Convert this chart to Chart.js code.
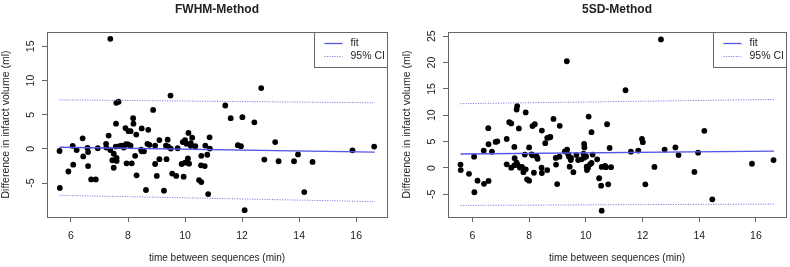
<!DOCTYPE html>
<html>
<head>
<meta charset="utf-8">
<title>FWHM vs 5SD</title>
<script src="https://cdn.jsdelivr.net/npm/chart.js@4.4.1/dist/chart.umd.min.js"></script>
<style>
  html, body { margin: 0; padding: 0; background: #fff; }
  .panel { position: absolute; top: 0; width: 395px; height: 267px; }
</style>
</head>
<body>
<div class="panel" style="left:0"><canvas id="fwhmChart" width="395" height="267"></canvas></div>
<div class="panel" style="left:395px"><canvas id="sdChart" width="395" height="267"></canvas></div>
<script>
// x = time between sequences (min), y = difference in infarct volume (ml)
const fwhmX = [5.60, 5.61, 5.91, 6.06, 6.08, 6.20, 6.41, 6.43, 6.58, 6.60, 6.60, 6.71, 6.87, 6.94,
  7.23, 7.24, 7.32, 7.38, 7.38, 7.45, 7.50, 7.50, 7.57, 7.58, 7.59, 7.60, 7.60, 7.67, 7.70, 7.78,
  7.85, 7.91, 7.93, 7.95, 8.00, 8.02, 8.09, 8.09, 8.13, 8.18, 8.19, 8.25, 8.29, 8.30, 8.46, 8.48,
  8.48, 8.56, 8.63, 8.68, 8.71, 8.75, 8.88, 8.95, 8.95, 9.01, 9.10, 9.10, 9.26, 9.33, 9.35, 9.39,
  9.41, 9.49, 9.50, 9.55, 9.69, 9.74, 9.88, 9.92, 9.95, 10.00, 10.00, 10.05, 10.10, 10.12, 10.14,
  10.20, 10.20, 10.25, 10.36, 10.49, 10.56, 10.57, 10.57, 10.69, 10.71, 10.78, 10.81, 10.86, 10.87,
  11.41, 11.60, 11.85, 11.96, 12.01, 12.09, 12.43, 12.67, 12.78, 13.16, 13.28, 13.82, 13.96, 14.18,
  14.47, 15.87, 16.63];
const fwhmY = [-0.3, -5.7, -3.3, 0.45, -2.3, -0.15, 1.55, -1.1, 0.15, -0.45, -2.5, -4.45, -4.45, 0.1,
  0.75, 0.2, 1.95, 16.1, -0.15, -1.65, -0.7, -2.75, 0.35, 3.7, 6.75, -1.3, -1.75, 6.9, 0.4, 0.5,
  0.2, 3.05, 0.7, -2.1, 0.65, 2.6, 2.6, 0.5, -2.1, 4.5, 3.7, -1.0, 2.1, -3.85, -0.1, 3.0,
  -0.35, -0.35, -6.0, 0.75, 2.8, 0.6, 5.7, 0.5, -2.2, -3.95, 1.3, -1.5, -6.1, 0.5, -1.5, 1.35,
  0.35, 7.8, 0.05, -3.6, -3.95, 0.1, -2.2, 1.0, -4.05, 1.3, -2.0, 0.75, -1.4, 2.35, -2.15,
  0.85, 0.45, 1.65, 0.4, -4.55, -2.4, -4.85, -1.0, -2.5, 0.5, -0.85, -6.6, 1.7, 0.05,
  6.35, 4.5, 0.55, 0.4, 4.65, -8.95, 3.9, 8.9, -1.55, 1.0, -1.8, -1.8, -0.8, -6.3,
  -1.9, -0.2, 0.35];

const sdX = [5.58, 5.59, 5.88, 6.06, 6.07, 6.18, 6.40, 6.41, 6.56, 6.57, 6.57, 6.69, 6.82, 6.88,
  7.21, 7.21, 7.30, 7.37, 7.37, 7.48, 7.49, 7.48, 7.56, 7.58, 7.56, 7.60, 7.64, 7.68, 7.75, 7.80,
  7.85, 7.88, 7.88, 7.93, 8.00, 8.00, 8.09, 8.12, 8.12, 8.17, 8.20, 8.27, 8.30, 8.44, 8.45, 8.45,
  8.57, 8.64, 8.71, 8.75, 8.64, 8.86, 8.94, 8.95, 8.99, 9.07, 9.08, 9.26, 9.33, 9.34, 9.38, 9.41,
  9.43, 9.47, 9.48, 9.56, 9.67, 9.73, 9.85, 9.92, 9.94, 9.95, 9.94, 10.01, 10.03, 10.04, 10.08,
  10.10, 10.15, 10.20, 10.20, 10.24, 10.40, 10.47, 10.54, 10.56, 10.56, 10.68, 10.71, 10.75, 10.79,
  10.84, 10.89, 11.40, 11.59, 11.85, 11.98, 12.01, 12.10, 12.42, 12.65, 12.78, 13.16, 13.27, 13.83,
  13.96, 14.18, 14.46, 15.86, 16.62];
const sdY = [0.65, -0.4, -1.1, 2.15, -4.6, -2.4, 3.3, -3.0, 7.55, -2.45, 4.5, 3.1, 4.95, 5.05,
  5.5, 0.7, 8.7, 8.45, 0.05, 4.0, 1.85, 0.5, 11.1, 11.75, 1.0, 0.55, 7.5, 0.05, 0.2, -0.8,
  2.55, 10.55, -0.25, -2.15, -2.4, 3.9, 2.6, 7.95, 2.4, -0.9, 8.3, 2.15, 1.75, 0.05, -0.95, 7.1,
  4.7, 5.7, 5.8, 5.9, -0.4, 9.3, 1.9, 0.65, -3.05, 2.15, 8.0, 3.15, 20.25, 3.5, 2.6, 2.15,
  0.25, 1.5, 1.9, -0.8, 2.45, 1.5, 1.65, 2.7, 4.55, 3.9, 1.95, 2.2, 0.25, -0.4, 0.05,
  9.75, 0.7, 0.95, 6.8, 2.55, 1.65, -1.95, -3.35, 0.2, -8.1, 0.4, 0.15, 8.3, -3.1,
  3.8, 0.15, 14.75, 3.1, 3.3, 5.5, 4.9, -3.1, 0.2, 24.4, 3.5, 3.9, 2.45, -0.75,
  2.9, 7.05, -5.95, 0.8, 1.5];

// fit line and 95% CI, read at the first and last time point
const fwhmLineX = [5.60, 16.65];
const fwhmFit = [0.25, -0.45];
const fwhmUpper = [7.18, 6.75];
const fwhmLower = [-6.78, -7.7];

const sdLineX = [5.58, 16.64];
const sdFit = [2.65, 3.2];
const sdUpper = [12.2, 13.0];
const sdLower = [-7.1, -6.85];

const xTicks = [6, 8, 10, 12, 14, 16];
const fwhmYTicks = [-5, 0, 5, 10, 15];
const sdYTicks = [-5, 0, 5, 10, 15, 20, 25];
const legendLabels = ['fit', '95% CI'];

const FONT = '"Liberation Sans", Arial, sans-serif';
const TEXT = '#222';
const FRAME = '#666';
const FIT_COLOR = '#5555e6';
const CI_COLOR = '#7f7fe0';

// R-like frame: box, title, rotated y tick labels and legend
const rFrame = {
    id: 'rFrame',
    afterDraw(chart, args, opts) {
        const ctx = chart.ctx;
        const area = chart.chartArea;
        const yScale = chart.scales.y;
        ctx.save();

        // box
        ctx.strokeStyle = FRAME;
        ctx.lineWidth = 1;
        ctx.strokeRect(Math.round(area.left) + 0.5, Math.round(area.top) + 0.5,
            Math.round(area.right - area.left), Math.round(area.bottom - area.top));

        // title
        ctx.fillStyle = TEXT;
        ctx.font = 'bold 12px ' + FONT;
        ctx.textAlign = 'center';
        ctx.textBaseline = 'alphabetic';
        ctx.fillText(opts.title, (area.left + area.right) / 2, 12.5);

        // y tick labels, parallel to the axis
        ctx.font = '10.5px ' + FONT;
        yScale.ticks.forEach(t => {
            const py = yScale.getPixelForValue(t.value);
            ctx.save();
            ctx.translate(area.left - 13, py);
            ctx.rotate(-Math.PI / 2);
            ctx.fillText(String(t.value), 0, 0);
            ctx.restore();
        });

        // legend
        const boxW = 73, boxH = 35;
        const bx = Math.round(area.right - boxW) + 0.5;
        const by = Math.round(area.top) + 0.5;
        ctx.fillStyle = '#fff';
        ctx.fillRect(bx, by, boxW, boxH);
        ctx.strokeStyle = FRAME;
        ctx.strokeRect(bx, by, boxW, boxH);
        const seen = [];
        const items = chart.data.datasets.filter(d => d.showLine && !seen.includes(d.label) && seen.push(d.label));
        items.forEach((d, i) => {
            const ly = by + 11 + i * 13;
            ctx.strokeStyle = d.borderColor;
            ctx.lineWidth = d.borderWidth;
            ctx.setLineDash(d.borderDash || []);
            ctx.beginPath();
            ctx.moveTo(bx + 10, ly);
            ctx.lineTo(bx + 28, ly);
            ctx.stroke();
            ctx.setLineDash([]);
            ctx.fillStyle = TEXT;
            ctx.font = '10.5px ' + FONT;
            ctx.textAlign = 'left';
            ctx.textBaseline = 'middle';
            ctx.fillText(d.label, bx + 36, ly);
        });
        ctx.restore();
    }
};

function toPoints(xs, ys) {
    return xs.map((x, i) => ({ x: x, y: ys[i] }));
}

function makeChart(id, cfg) {
    const lineSet = (label, ys, color, width, dash) => ({
        label: label,
        data: toPoints(cfg.lineX, ys),
        showLine: true,
        borderColor: color,
        borderWidth: width,
        borderDash: dash,
        pointRadius: 0,
        order: 1
    });

    return new Chart(document.getElementById(id), {
        type: 'scatter',
        data: {
            datasets: [
                {
                    label: 'data',
                    data: toPoints(cfg.x, cfg.y),
                    showLine: false,
                    pointRadius: 2.9,
                    pointBackgroundColor: '#000',
                    pointBorderWidth: 0,
                    order: 2
                },
                lineSet(legendLabels[0], cfg.fit, FIT_COLOR, 1.3, []),
                lineSet(legendLabels[1], cfg.upper, CI_COLOR, 1, [1.2, 1.3]),
                lineSet(legendLabels[1], cfg.lower, CI_COLOR, 1, [1.2, 1.3])
            ]
        },
        options: {
            responsive: false,
            animation: false,
            layout: { padding: { left: 0, right: cfg.padRight, top: 32, bottom: 0 } },
            plugins: {
                legend: { display: false },
                tooltip: { enabled: false },
                rFrame: { title: cfg.title }
            },
            scales: {
                x: {
                    type: 'linear',
                    min: cfg.xMin,
                    max: cfg.xMax,
                    afterBuildTicks: s => { s.ticks = xTicks.map(v => ({ value: v })); },
                    afterFit: s => { s.height = 50; },
                    border: { display: false },
                    grid: { drawOnChartArea: false, drawTicks: true, tickLength: 5, color: FRAME },
                    ticks: { color: TEXT, font: { family: FONT, size: 10.5 }, padding: 8, maxRotation: 0 },
                    title: {
                        display: true,
                        text: 'time between sequences (min)',
                        color: TEXT,
                        font: { family: FONT, size: 10 },
                        padding: { top: 0, bottom: 3 }
                    }
                },
                y: {
                    type: 'linear',
                    min: cfg.yMin,
                    max: cfg.yMax,
                    afterBuildTicks: s => { s.ticks = cfg.yTicks.map(v => ({ value: v })); },
                    afterFit: s => { s.width = cfg.plotLeft; },
                    border: { display: false },
                    grid: { drawOnChartArea: false, drawTicks: true, tickLength: 5, color: FRAME },
                    ticks: { display: false },
                    title: {
                        display: true,
                        text: 'Difference in infarct volume (ml)',
                        color: TEXT,
                        font: { family: FONT, size: 10.5 },
                        padding: { top: cfg.plotLeft - 47, bottom: 0 }
                    }
                }
            }
        },
        plugins: [rFrame]
    });
}

makeChart('fwhmChart', {
    title: 'FWHM-Method',
    x: fwhmX, y: fwhmY,
    lineX: fwhmLineX, fit: fwhmFit, upper: fwhmUpper, lower: fwhmLower,
    yTicks: fwhmYTicks,
    xMin: 5.16, xMax: 17.08, yMin: -9.95, yMax: 17.1,
    plotLeft: 47, padRight: 8
});

makeChart('sdChart', {
    title: '5SD-Method',
    x: sdX, y: sdY,
    lineX: sdLineX, fit: sdFit, upper: sdUpper, lower: sdLower,
    yTicks: sdYTicks,
    xMin: 5.14, xMax: 17.06, yMin: -9.3, yMax: 25.8,
    plotLeft: 53, padRight: 3
});
</script>
</body>
</html>
